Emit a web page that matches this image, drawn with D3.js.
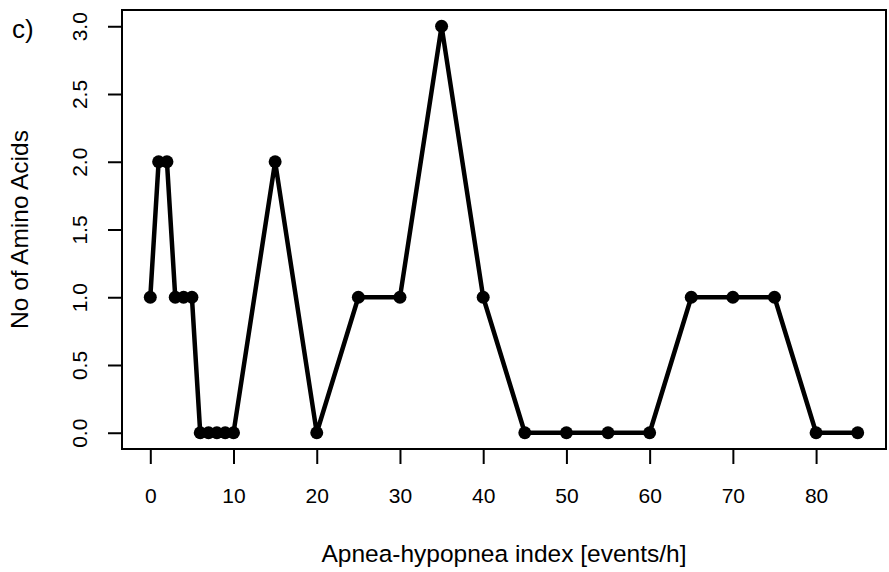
<!DOCTYPE html>
<html>
<head>
<meta charset="utf-8">
<script src="https://cdn.jsdelivr.net/npm/d3@7"></script>
<style>
  body { margin: 0; background: #fff; }
  text { font-family: "Liberation Sans", Arial, sans-serif; fill: #000; }
</style>
</head>
<body>
<svg id="canvas" width="889" height="572"></svg>
<script>
// data
const ahi = [0, 1, 2, 3, 4, 5, 6, 7, 8, 9, 10, 15, 20, 25, 30, 35, 40, 45, 50, 55, 60, 65, 70, 75, 80, 85];
const aminoCount = [1, 2, 2, 1, 1, 1, 0, 0, 0, 0, 0, 2, 0, 1, 1, 3, 1, 0, 0, 0, 0, 1, 1, 1, 0, 0];
const xTicks = [0, 10, 20, 30, 40, 50, 60, 70, 80];
const yTicks = [0, 0.5, 1, 1.5, 2, 2.5, 3];

const svg = d3.select("#canvas");
const box = { left: 122, right: 886, top: 10, bottom: 449 };

// R-style 4% padding on both axes
const x = d3.scaleLinear().domain([-3.4, 88.4]).range([box.left, box.right]);
const y = d3.scaleLinear().domain([-0.12, 3.12]).range([box.bottom, box.top]);

const points = ahi.map((a, i) => ({ x: a, y: aminoCount[i] }));

// plot frame
svg.append("rect")
    .attr("x", box.left)
    .attr("y", box.top)
    .attr("width", box.right - box.left)
    .attr("height", box.bottom - box.top)
    .attr("fill", "none")
    .attr("stroke", "#000")
    .attr("stroke-width", 2);

// x axis (ticks only, frame draws the line)
const xAxis = svg.append("g")
    .attr("transform", `translate(0,${box.bottom})`)
    .call(d3.axisBottom(x).tickValues(xTicks).tickSize(15).tickPadding(24).tickFormat(d3.format("d")));
xAxis.select(".domain").remove();
xAxis.selectAll("line").attr("stroke-width", 2);
xAxis.selectAll("text")
    .attr("font-size", 21)
    .style("font-family", "'Liberation Sans', Arial, sans-serif");

// y axis with rotated labels
const yAxis = svg.append("g")
    .attr("transform", `translate(${box.left},0)`)
    .call(d3.axisLeft(y).tickValues(yTicks).tickSize(14).tickFormat(d3.format(".1f")));
yAxis.select(".domain").remove();
yAxis.selectAll("line").attr("stroke-width", 2);
yAxis.selectAll("text")
    .attr("x", null)
    .attr("dy", null)
    .attr("transform", "translate(-35,0) rotate(-90)")
    .attr("text-anchor", "middle")
    .attr("font-size", 21)
    .style("font-family", "'Liberation Sans', Arial, sans-serif");

// line + points
svg.append("path")
    .datum(points)
    .attr("fill", "none")
    .attr("stroke", "#000")
    .attr("stroke-width", 4.5)
    .attr("stroke-linejoin", "round")
    .attr("d", d3.line().x(d => x(d.x)).y(d => y(d.y)));

svg.selectAll(".pt")
    .data(points)
    .enter()
    .append("circle")
    .attr("class", "pt")
    .attr("cx", d => x(d.x))
    .attr("cy", d => y(d.y))
    .attr("r", 6.5)
    .attr("fill", "#000");

// titles
svg.append("text")
    .attr("x", (box.left + box.right) / 2)
    .attr("y", 562)
    .attr("text-anchor", "middle")
    .attr("font-size", 24.5)
    .text("Apnea-hypopnea index [events/h]");

svg.append("text")
    .attr("transform", `translate(28,${(box.top + box.bottom) / 2}) rotate(-90)`)
    .attr("text-anchor", "middle")
    .attr("font-size", 24.5)
    .text("No of Amino Acids");

svg.append("text")
    .attr("x", 12)
    .attr("y", 38)
    .attr("font-size", 26)
    .text("c)");
</script>
</body>
</html>
